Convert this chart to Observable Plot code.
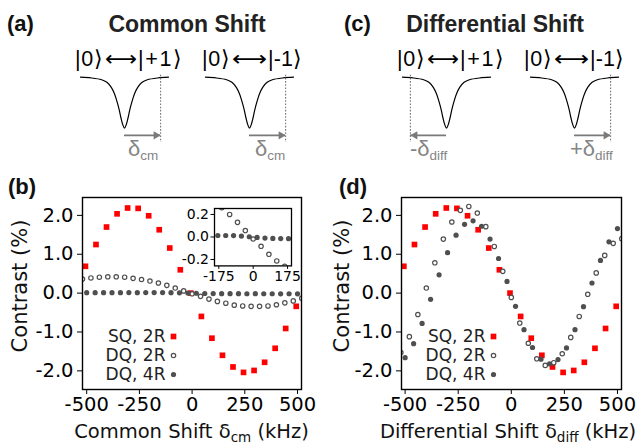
<!DOCTYPE html>
<html>
<head>
<meta charset="utf-8">
<script src="https://cdn.jsdelivr.net/npm/d3@7"></script>
<script src="https://cdn.jsdelivr.net/npm/@observablehq/plot@0.6"></script>
<style>
  html, body { margin: 0; padding: 0; background: white; }
  #fig { position: relative; width: 644px; height: 445px; overflow: hidden; background: white; }
</style>
</head>
<body>
<div id="fig"></div>
<script>
// ---------------- data ----------------
const xTicks = [-500, -250, 0, 250, 500];
const yTicks = [-2, -1, 0, 1, 2];
const insetXTicks = [-175, 0, 175];
const insetYTicks = [-0.2, 0, 0.2];

// SQ, 2R (same measurement in both panels)
const sqX = [-506,-456,-406,-356,-306,-256,-206,-156,-106,-56,-6,44,94,144,194,244,294,344,394,444,494];
const sqY = [0.69,1.25,1.70,2.04,2.19,2.18,1.99,1.63,1.16,0.60,0.00,-0.60,-1.16,-1.60,-1.90,-2.04,-1.99,-1.78,-1.42,-0.91,-0.34];

// DQ, 2R
const dq2X = [-520,-480,-440,-400,-360,-320,-280,-240,-200,-160,-120,-80,-40,0,40,80,120,160,200,240,280,320,360,400,440,480,520];
const dq2CommonY = [0.36,0.39,0.41,0.42,0.42,0.41,0.38,0.35,0.31,0.26,0.20,0.13,0.057,-0.018,-0.083,-0.154,-0.213,-0.26,-0.31,-0.33,-0.34,-0.34,-0.33,-0.30,-0.25,-0.20,-0.13];
const dq2DiffY = [-1.53,-1.12,-0.55,0.13,0.78,1.39,1.83,2.13,2.23,2.06,1.71,1.20,0.56,-0.11,-0.77,-1.29,-1.69,-1.86,-1.79,-1.56,-1.14,-0.60,-0.03,0.52,0.97,1.28,1.40];

// DQ, 4R
const dq4X = [-500,-460,-420,-380,-340,-300,-260,-220,-180,-140,-100,-60,-20,20,60,100,140,180,220,260,300,340,380,420,460,500];
const dq4CommonY = [0.010,0.012,0.010,0.012,0.011,0.013,0.012,0.014,0.013,0.013,0.012,0.008,0.002,-0.004,-0.010,-0.013,-0.014,-0.015,-0.015,-0.016,-0.015,-0.017,-0.016,-0.018,-0.017,-0.018];
const dq4DiffY = [-1.66,-1.30,-0.78,-0.16,0.47,1.04,1.49,1.77,1.86,1.72,1.39,0.89,0.30,-0.34,-0.94,-1.40,-1.70,-1.82,-1.71,-1.41,-0.94,-0.35,0.26,0.84,1.32,1.66];

const legendLabels = ["SQ, 2R", "DQ, 2R", "DQ, 4R"];

// schematic resonance dip (arbitrary units: detuning, normalized signal)
const dipX = [-1,-0.75,-0.52,-0.4,-0.3,-0.23,-0.17,-0.12,-0.08,-0.04,0,0.04,0.08,0.12,0.17,0.23,0.3,0.4,0.52,0.75,1];
const dipY = [0,-0.015,-0.05,-0.1,-0.2,-0.32,-0.48,-0.64,-0.8,-0.93,-1,-0.93,-0.8,-0.64,-0.48,-0.32,-0.2,-0.1,-0.05,-0.015,0];
const commonShift = [0.82, 0.82];   // |+1>, |-1>
const diffShift = [-0.82, 0.82];

// ---------------- helpers ----------------
const fig = document.getElementById("fig");
function place(el, left, top) {
  el.style.position = "absolute";
  el.style.left = left + "px";
  el.style.top = top + "px";
  el.style.maxWidth = "none";
  fig.appendChild(el);
}
const rows = (xs, ys) => xs.map((x, i) => ({x, y: ys[i]}));
const fmt1 = d => d.toFixed(1);
const RED = "#ff0000", GRAY = "#4f4f4f";

function seriesMarks(sq, dq2, dq4) {
  return [
    Plot.dot(sq, {x: "x", y: "y", symbol: "square", fill: RED, r: 3.2, clip: true}),
    Plot.dot(dq2, {x: "x", y: "y", fill: "white", stroke: GRAY, strokeWidth: 1.2, r: 2.2, clip: true}),
    Plot.dot(dq4, {x: "x", y: "y", fill: GRAY, r: 2.6, clip: true})
  ];
}

function mainPlot(dq2Y, dq4Y, xDomain, width, mLeft, mRight) {
  return Plot.plot({
    width, height: 275, marginLeft: mLeft, marginRight: mRight, marginTop: 27, marginBottom: 56,
    style: {background: "transparent", fontFamily: "'DejaVu Sans'", fontSize: "19.5px", color: "black", overflow: "visible"},
    x: {domain: xDomain, ticks: xTicks, tickFormat: d => String(d), tickSize: 5, tickPadding: 3, label: null},
    y: {domain: [-2.48, 2.46], ticks: yTicks, tickFormat: fmt1, tickSize: 5, tickPadding: 4, label: null},
    marks: [
      ...seriesMarks(rows(sqX, sqY), rows(dq2X, dq2Y), rows(dq4X, dq4Y)),
      Plot.frame({stroke: "black", strokeWidth: 1.4})
    ]
  });
}

function legendPlot() {
  return Plot.plot({
    width: 80, height: 60, marginLeft: 70, marginRight: 10, marginTop: 0, marginBottom: 0,
    style: {background: "transparent", fontFamily: "'DejaVu Sans'", fontSize: "17px", color: "#222", overflow: "visible"},
    y: {type: "point", domain: legendLabels, range: [10, 48], padding: 0, tickSize: 0, tickPadding: 8, label: null},
    marks: [
      Plot.dot([legendLabels[0]], {y: d => d, frameAnchor: "left", symbol: "square", fill: RED, r: 3.2}),
      Plot.dot([legendLabels[1]], {y: d => d, frameAnchor: "left", fill: "white", stroke: GRAY, strokeWidth: 1.2, r: 2.2}),
      Plot.dot([legendLabels[2]], {y: d => d, frameAnchor: "left", fill: GRAY, r: 2.6})
    ]
  });
}

function dipPlot(shift) {
  const dir = Math.sign(shift);
  return Plot.plot({
    width: 110, height: 80, margin: 0,
    style: {background: "transparent", overflow: "visible"},
    x: {domain: [-1.25, 1.25], axis: null},
    y: {domain: [-1.457, 0.112], axis: null},
    marks: [
      Plot.line(rows(dipX, dipY), {x: "x", y: "y", curve: "catmull-rom", stroke: "black", strokeWidth: 1.2}),
      Plot.ruleX([shift], {x: d => d, y1: 0.04, y2: -1.28, stroke: "#777", strokeWidth: 1.1, strokeDasharray: "1.6,1.6"}),
      Plot.ruleY([{x1: 0, x2: shift, y: -1.14}], {x1: "x1", x2: "x2", y: "y", stroke: "#7a7a7a", strokeWidth: 1.6}),
      Plot.dot([shift], {x: d => d, y: () => -1.14, symbol: "triangle", r: 3, fill: "#7a7a7a", rotate: dir * 90, dx: -dir * 4.6})
    ]
  });
}

// ---------------- top schematics ----------------
place(dipPlot(commonShift[0]), 69, 71);
place(dipPlot(commonShift[1]), 194.3, 71);
place(dipPlot(diffShift[0]), 391, 71);
place(dipPlot(diffShift[1]), 519, 71);

// ---------------- main panels ----------------
place(mainPlot(dq2CommonY, dq4CommonY, [-520, 519], 320, 82, 19), 0, 170);
place(mainPlot(dq2DiffY, dq4DiffY, [-517, 519], 324, 81, 23), 320, 170);

// inset of panel (b)
const inset = Plot.plot({
  width: 127, height: 87.4, marginLeft: 40, marginRight: 10, marginTop: 5, marginBottom: 25,
  style: {background: "transparent", fontFamily: "'DejaVu Sans'", fontSize: "14px", color: "black", overflow: "visible"},
  x: {domain: [-197, 195], ticks: insetXTicks, tickFormat: d => String(d), tickSize: 3.5, tickPadding: 2, label: null},
  y: {domain: [-0.257, 0.253], ticks: insetYTicks, tickFormat: fmt1, tickSize: 3.5, tickPadding: 2, label: null},
  marks: [
    Plot.frame({fill: "white", stroke: null}),
    Plot.dot(rows(dq2X, dq2CommonY), {x: "x", y: "y", fill: "white", stroke: GRAY, strokeWidth: 1.2, r: 2.2, clip: true}),
    Plot.dot(rows(dq4X, dq4CommonY), {x: "x", y: "y", fill: GRAY, r: 2.6, clip: true}),
    Plot.frame({stroke: "black", strokeWidth: 1.3})
  ]
});
place(inset, 174.3, 203.3);

// legends
place(legendPlot(), 103.3, 326);
place(legendPlot(), 423.3, 326);

// ---------------- text overlay ----------------
const SANS = "'Liberation Sans', Arial, sans-serif";
const AX = "'DejaVu Sans', sans-serif";
const svg = d3.select(fig).append("svg")
  .attr("width", 644).attr("height", 445)
  .style("position", "absolute").style("left", "0px").style("top", "0px")
  .style("pointer-events", "none");

const panelLabels = [
  {t: "(a)", x: 7, y: 30.5}, {t: "(c)", x: 344, y: 30.5},
  {t: "(b)", x: 8, y: 194}, {t: "(d)", x: 339, y: 194}
];
svg.selectAll(null).data(panelLabels).join("text")
  .attr("x", d => d.x).attr("y", d => d.y)
  .attr("font-family", SANS).attr("font-size", 22).attr("font-weight", "bold").attr("fill", "#111")
  .text(d => d.t);

const titles = [{t: "Common Shift", x: 187}, {t: "Differential Shift", x: 495}];
svg.selectAll(null).data(titles).join("text")
  .attr("x", d => d.x).attr("y", 31.5).attr("text-anchor", "middle")
  .attr("font-family", SANS).attr("font-size", 23).attr("font-weight", "bold").attr("fill", "#222")
  .text(d => d.t);

// kets  |0> <-> |±1>
const kets = [
  {a: 75, arrow: 105, b: 138, r: "|+1\u27E9", rl: 44},
  {a: 202, arrow: 232, b: 268, r: "|-1\u27E9", rl: 34},
  {a: 397, arrow: 427, b: 460, r: "|+1\u27E9", rl: 44},
  {a: 524, arrow: 554, b: 590, r: "|-1\u27E9", rl: 34}
];
for (const k of kets) {
  svg.append("text").attr("x", k.a).attr("y", 66).attr("font-family", SANS).attr("font-size", 21.5)
    .attr("textLength", 28).attr("lengthAdjust", "spacing").text("|0\u27E9");
  svg.append("text").attr("x", k.arrow).attr("y", 66).attr("font-family", AX).attr("font-size", 21)
    .attr("textLength", k.b - k.arrow - 1).attr("lengthAdjust", "spacingAndGlyphs").text("\u27F7");
  svg.append("text").attr("x", k.b).attr("y", 66).attr("font-family", SANS).attr("font-size", 21.5)
    .attr("textLength", k.rl).attr("lengthAdjust", "spacing").text(k.r);
}

// shift labels
const shiftLabels = [
  {pre: "", sub: "cm", x: 128}, {pre: "", sub: "cm", x: 255},
  {pre: "-", sub: "diff", x: 410}, {pre: "+", sub: "diff", x: 570}
];
for (const s of shiftLabels) {
  const t = svg.append("text").attr("x", s.x).attr("y", 156).attr("font-family", SANS)
    .attr("font-size", 22).attr("fill", "#858585");
  t.append("tspan").text(s.pre + "\u03B4");
  t.append("tspan").attr("dy", 4).attr("font-size", 13.5).text(s.sub);
}

// axis labels
const yLabels = [{x: 27, y: 286}, {x: 349, y: 286}];
svg.selectAll(null).data(yLabels).join("text")
  .attr("transform", d => `translate(${d.x},${d.y}) rotate(-90)`)
  .attr("text-anchor", "middle").attr("font-family", AX).attr("font-size", 21).attr("fill", "#111")
  .text("Contrast (%)");

const xLabels = [{pre: "Common Shift \u03B4", sub: "cm", x: 191.5}, {pre: "Differential Shift \u03B4", sub: "diff", x: 508}];
for (const l of xLabels) {
  const t = svg.append("text").attr("x", l.x).attr("y", 438).attr("text-anchor", "middle")
    .attr("font-family", AX).attr("font-size", 19.5).attr("fill", "#111");
  t.append("tspan").text(l.pre);
  t.append("tspan").attr("dy", 4).attr("font-size", 13.5).text(l.sub);
  t.append("tspan").attr("dy", -4).text(" (kHz)");
}
</script>
</body>
</html>
